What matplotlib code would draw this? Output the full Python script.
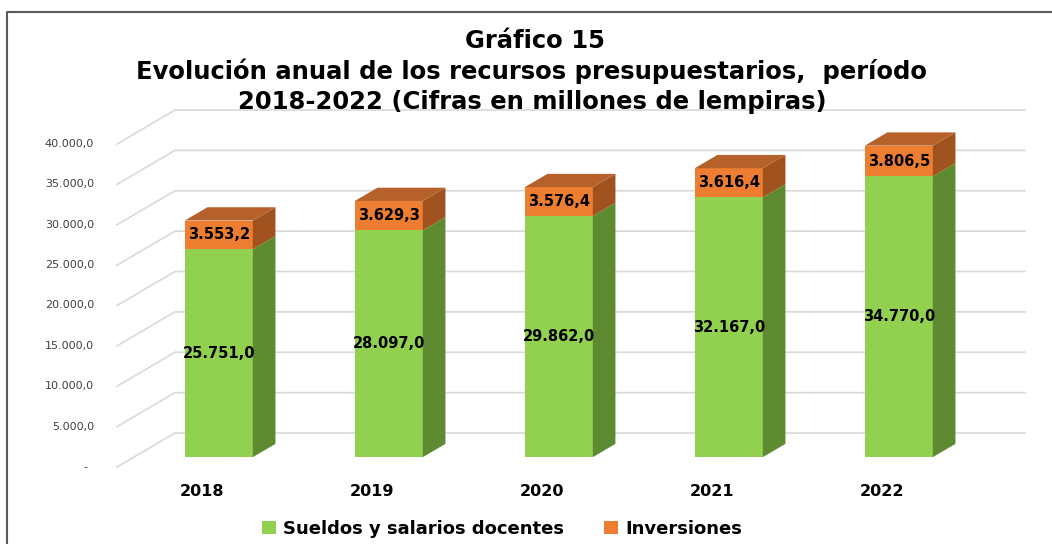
import matplotlib.pyplot as plt
from matplotlib.patches import Polygon
from matplotlib.lines import Line2D

years = ['2018', '2019', '2020', '2021', '2022']
sueldos = [25751.0, 28097.0, 29862.0, 32167.0, 34770.0]
inversiones = [3553.2, 3629.3, 3576.4, 3616.4, 3806.5]
ticks = [0, 5000, 10000, 15000, 20000, 25000, 30000, 35000, 40000]

# fake 3d: depth of the box, and where the bars sit inside it
DX = 58 / 170.0
DY = 4210.0
z0, z1 = 0.29, 0.68
hw = 0.2

green = '#92D050'
green_side = '#5E8A32'
orange = '#ED7D31'
orange_top = '#B6612A'
orange_side = '#A0521F'


def fmt(v):
    s = f"{v:,.1f}"
    return s.replace(",", "X").replace(".", ",").replace("X", ".")


W, H = 1052, 544
fig = plt.figure(figsize=(W / 100, H / 100), dpi=100)
ax = fig.add_axes([117 / W, 77 / H, 908 / W, 357 / H])
ax.set_xlim(-0.5, 4.5 + DX)
ax.set_ylim(0, 40000 + DY)
ax.axis('off')

# gridlines: diagonal on the side wall + horizontal on the back wall
for v in ticks:
    ax.plot([-0.5, -0.5 + DX, 4.5 + DX], [v, v + DY, v + DY],
            color='#d9d9d9', lw=1.2, zorder=1, clip_on=False)
    lab = fmt(v) if v else '-'
    off = -23 if v else -30
    ax.annotate(lab, xy=(-0.5, v), xytext=(off * 0.72, 0), textcoords='offset points',
                ha='right', va='center', fontsize=8, color='#404040')


def box(i, lo, hi, front, side, top=None):
    xl = i - hw
    xr = i + hw
    f = [(xl + z0 * DX, lo + z0 * DY), (xr + z0 * DX, lo + z0 * DY),
         (xr + z0 * DX, hi + z0 * DY), (xl + z0 * DX, hi + z0 * DY)]
    s = [(xr + z0 * DX, lo + z0 * DY), (xr + z1 * DX, lo + z1 * DY),
         (xr + z1 * DX, hi + z1 * DY), (xr + z0 * DX, hi + z0 * DY)]
    ax.add_patch(Polygon(f, closed=True, fc=front, ec='none', zorder=3))
    ax.add_patch(Polygon(s, closed=True, fc=side, ec='none', zorder=3))
    if top is not None:
        t = [(xl + z0 * DX, hi + z0 * DY), (xr + z0 * DX, hi + z0 * DY),
             (xr + z1 * DX, hi + z1 * DY), (xl + z1 * DX, hi + z1 * DY)]
        ax.add_patch(Polygon(t, closed=True, fc=top, ec='none', zorder=3))


for i in range(len(years)):
    g = sueldos[i]
    o = inversiones[i]
    box(i, 0, g, green, green_side)
    box(i, g, g + o, orange, orange_side, orange_top)
    ax.text(i + z0 * DX, g / 2 + z0 * DY, fmt(g), ha='center', va='center',
            fontsize=10.5, fontweight='bold', color='black', zorder=5)
    ax.text(i + z0 * DX, g + o / 2 + z0 * DY, fmt(o), ha='center', va='center',
            fontsize=10.5, fontweight='bold', color='black', zorder=5)
    ax.annotate(years[i], xy=(i, 0), xytext=(0, -24 * 0.72), textcoords='offset points',
                ha='center', va='center', fontsize=11.5, fontweight='bold')

# title
fig.text(535 / W, 1 - 48 / H, 'Gráfico 15', ha='center', va='baseline',
         fontsize=17.5, fontweight='bold')
fig.text(532 / W, 1 - 79 / H, 'Evolución anual de los recursos presupuestarios,  período',
         ha='center', va='baseline', fontsize=17.5, fontweight='bold')
fig.text(532 / W, 1 - 109 / H, '2018-2022 (Cifras en millones de lempiras)',
         ha='center', va='baseline', fontsize=17.5, fontweight='bold')

# legend
lax = fig.add_axes([0, 0, 1, 1], facecolor='none')
lax.set_xlim(0, W)
lax.set_ylim(H, 0)
lax.axis('off')
lax.add_patch(plt.Rectangle((262, 521), 14, 13, fc=green, ec='none'))
lax.text(283, 534, 'Sueldos y salarios docentes', ha='left', va='baseline',
         fontsize=13, fontweight='bold')
lax.add_patch(plt.Rectangle((604, 521), 14, 13, fc=orange, ec='none'))
lax.text(625, 534, 'Inversiones', ha='left', va='baseline',
         fontsize=13, fontweight='bold')

# chart frame (only top and left visible)
lax.add_line(Line2D([7, 7, W + 5], [H + 5, 12, 12], color='#5a5a5a', lw=1.5))

fig.savefig('out.png', dpi=100)
